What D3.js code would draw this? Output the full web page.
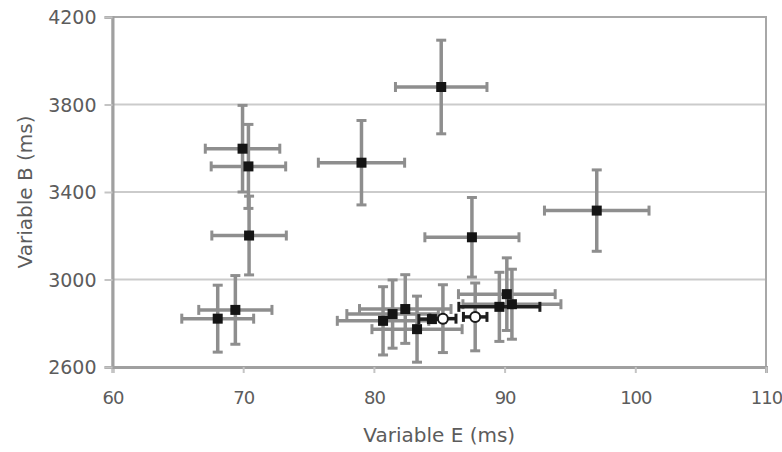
<!DOCTYPE html>
<html>
<head>
<meta charset="utf-8">
<style>
  body { margin: 0; background: #fff; }
  text { font-family: "DejaVu Sans", sans-serif; fill: #5c5c5c; }
</style>
</head>
<body>
<script src="https://cdn.jsdelivr.net/npm/d3@7"></script>
<script>

    // E = Variable E (ms), B = Variable B (ms), dE / dB = error bar half widths
    const squares = [
        {e: 85.15, b: 3880, dE: 3.5,  dB: 214},
        {e: 79.05, b: 3534, dE: 3.3,  dB: 193},
        {e: 87.5,  b: 3193, dE: 3.6,  dB: 182},
        {e: 97.05, b: 3315, dE: 4.0,  dB: 186},
        {e: 69.95, b: 3598, dE: 2.85, dB: 198},
        {e: 70.4,  b: 3517, dE: 2.85, dB: 192},
        {e: 70.45, b: 3201, dE: 2.85, dB: 180},
        {e: 68.05, b: 2821, dE: 2.75, dB: 153},
        {e: 69.4,  b: 2861, dE: 2.8,  dB: 157},
        {e: 80.7,  b: 2811, dE: 3.5,  dB: 156},
        {e: 81.43, b: 2842, dE: 3.5,  dB: 156},
        {e: 82.4,  b: 2865, dE: 3.5,  dB: 157},
        {e: 83.3,  b: 2773, dE: 3.45, dB: 151},
        {e: 90.17, b: 2933, dE: 3.7,  dB: 166},
        {e: 90.56, b: 2887, dE: 3.75, dB: 160}
    ];

    // squares whose E error bar is drawn dark
    const darkSquares = [
        {e: 84.44, b: 2819, dE: 1.0, dB: 0},
        {e: 89.6,  b: 2875, dE: 3.1, dB: 158}
    ];

    const circles = [
        {e: 85.28, b: 2821, dE: 1.0, dB: 155},
        {e: 87.75, b: 2829, dE: 0.9, dB: 155}
    ];

    const xTicks = [60, 70, 80, 90, 100, 110],
          yTicks = [2600, 3000, 3400, 3800, 4200],
          gridTicks = [3000, 3400, 3800];

    const width = 782, height = 452,
          mLeft = 112.5, mRight = 766, mTop = 17, mBottom = 367;

    const svg = d3.select("body").append("svg")
        .attr("width", width)
        .attr("height", height);

    const x = d3.scaleLinear().domain([60, 110]).range([mLeft, mRight]);
    const y = d3.scaleLinear().domain([2600, 4200]).range([mBottom, mTop]);

    const GRAY = "#8e8e8e", DARK = "#1e1e1e", CAP = 5;

    // grid
    svg.append("g").selectAll("line").data(gridTicks).join("line")
        .attr("x1", mLeft).attr("x2", mRight)
        .attr("y1", d => y(d)).attr("y2", d => y(d))
        .attr("stroke", "#cbcbcb").attr("stroke-width", 2);

    // frame
    svg.append("rect")
        .attr("x", mLeft).attr("y", mTop)
        .attr("width", mRight - mLeft).attr("height", mBottom - mTop)
        .attr("fill", "none").attr("stroke", "#a8a8a8").attr("stroke-width", 2);

    // axes
    const xAxis = svg.append("g")
        .attr("transform", `translate(0,${mBottom})`)
        .call(d3.axisBottom(x).tickValues(xTicks).tickSize(6).tickPadding(18));
    const yAxis = svg.append("g")
        .attr("transform", `translate(${mLeft},0)`)
        .call(d3.axisLeft(y).tickValues(yTicks).tickSize(8).tickPadding(8).tickFormat(d3.format("d")));

    [xAxis, yAxis].forEach(a => {
        a.select(".domain").attr("stroke", "#a0a0a0").attr("stroke-width", 3);
        a.selectAll(".tick line").attr("stroke", "#c4c4c4").attr("stroke-width", 2);
        a.selectAll(".tick text")
            .style("font-family", "DejaVu Sans, sans-serif")
            .style("font-size", "19px")
            .attr("fill", "#5c5c5c");
    });
    yAxis.selectAll(".tick text").attr("dy", "0.36em");
    xAxis.selectAll(".tick text")
        .style("font-size", "18px")
        .style("letter-spacing", "-1px");

    svg.append("text")
        .attr("x", (mLeft + mRight) / 2).attr("y", 442)
        .attr("text-anchor", "middle")
        .style("font-size", "20px")
        .text("Variable E (ms)");

    svg.append("text")
        .attr("transform", `translate(32,${(mTop + mBottom) / 2}) rotate(-90)`)
        .attr("text-anchor", "middle")
        .style("font-size", "20px")
        .text("Variable B (ms)");

    const g = svg.append("g");

    function vBars(data, color) {
        const sel = g.append("g").selectAll("g").data(data.filter(d => d.dB > 0)).join("g")
            .attr("stroke", color);
        sel.append("line")
            .attr("x1", d => x(d.e)).attr("x2", d => x(d.e))
            .attr("y1", d => y(d.b - d.dB)).attr("y2", d => y(d.b + d.dB))
            .attr("stroke-width", 3.5);
        [-1, 1].forEach(s => sel.append("line")
            .attr("x1", d => x(d.e) - CAP).attr("x2", d => x(d.e) + CAP)
            .attr("y1", d => y(d.b + s * d.dB)).attr("y2", d => y(d.b + s * d.dB))
            .attr("stroke-width", 3));
    }

    function hBars(data, color) {
        const sel = g.append("g").selectAll("g").data(data).join("g")
            .attr("stroke", color);
        sel.append("line")
            .attr("x1", d => x(d.e - d.dE)).attr("x2", d => x(d.e + d.dE))
            .attr("y1", d => y(d.b)).attr("y2", d => y(d.b))
            .attr("stroke-width", 3.5);
        [-1, 1].forEach(s => sel.append("line")
            .attr("x1", d => x(d.e + s * d.dE)).attr("x2", d => x(d.e + s * d.dE))
            .attr("y1", d => y(d.b) - CAP).attr("y2", d => y(d.b) + CAP)
            .attr("stroke-width", 3));
    }

    vBars(squares, GRAY);
    hBars(squares, GRAY);
    vBars(darkSquares, GRAY);
    vBars(circles, GRAY);
    hBars(darkSquares, DARK);
    hBars(circles, DARK);

    g.append("g").selectAll("rect").data(squares.concat(darkSquares)).join("rect")
        .attr("x", d => x(d.e) - 5).attr("y", d => y(d.b) - 5)
        .attr("width", 10).attr("height", 10)
        .attr("fill", "#141414");

    g.append("g").selectAll("circle").data(circles).join("circle")
        .attr("cx", d => x(d.e)).attr("cy", d => y(d.b))
        .attr("r", 5)
        .attr("fill", "#fff").attr("stroke", "#1a1a1a").attr("stroke-width", 2);
</script>
</body>
</html>
